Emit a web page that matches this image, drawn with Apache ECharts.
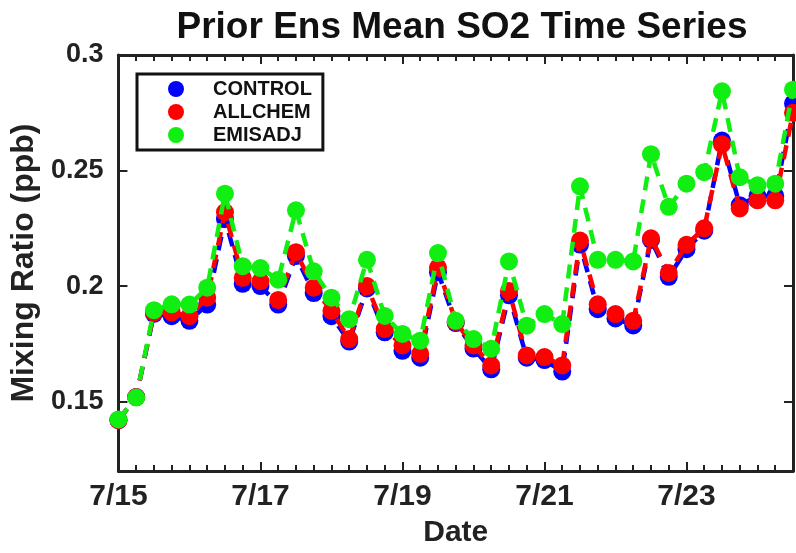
<!DOCTYPE html>
<html>
<head>
<meta charset="utf-8">
<title>Prior Ens Mean SO2 Time Series</title>
<script src="https://cdn.jsdelivr.net/npm/echarts@6/dist/echarts.min.js"></script>
<style>
  html, body { margin: 0; padding: 0; background: #fff; }
  #grafico { width: 796px; height: 553px; }
</style>
</head>
<body>
<div id="grafico"></div>
<script>
// Horas desde 7/15 00:00 (una muestra cada 6 h)
var horas = [0, 6, 12, 18, 24, 30, 36, 42, 48, 54, 60, 66, 72, 78, 84, 90, 96, 102, 108, 114,
             120, 126, 132, 138, 144, 150, 156, 162, 168, 174, 180, 186, 192, 198, 204, 210, 216, 222, 228];

var control = [0.142, 0.152, 0.188, 0.187, 0.185, 0.192, 0.229, 0.201, 0.200, 0.192,
               0.213, 0.197, 0.187, 0.176, 0.199, 0.180, 0.172, 0.169, 0.206, 0.184,
               0.173, 0.164, 0.196, 0.169, 0.168, 0.163, 0.218, 0.190, 0.186, 0.183,
               0.220, 0.204, 0.216, 0.224, 0.263, 0.235, 0.239, 0.239, 0.279];

var allchem = [0.142, 0.152, 0.1885, 0.1886, 0.187, 0.195, 0.232, 0.2036, 0.2021, 0.194,
               0.2147, 0.1993, 0.1893, 0.1771, 0.200, 0.1814, 0.1743, 0.1707, 0.208, 0.1845,
               0.1743, 0.1657, 0.1979, 0.170, 0.1693, 0.1657, 0.2197, 0.1921, 0.1879, 0.185,
               0.2207, 0.2057, 0.2179, 0.225, 0.2614, 0.2336, 0.2371, 0.2371, 0.275];

var emisadj = [0.1423, 0.1518, 0.1896, 0.1921, 0.192, 0.1993, 0.240, 0.2086, 0.2078, 0.2028,
               0.2328, 0.2064, 0.195, 0.1857, 0.2114, 0.1871, 0.1793, 0.1764, 0.2143, 0.185,
               0.1771, 0.1729, 0.2107, 0.1829, 0.1879, 0.1836, 0.2432, 0.2114, 0.2114, 0.2107,
               0.2571, 0.2343, 0.2443, 0.2493, 0.2843, 0.2471, 0.2436, 0.2443, 0.285];

var yTicks = [0.15, 0.2, 0.25, 0.3];
var yTickLabels = ['0.15', '0.2', '0.25', '0.3'];

var fuente = "'Liberation Sans', Arial, Helvetica, sans-serif";

function pares(valores) {
    return horas.map(function (h, i) { return [h / 24, valores[i]]; });
}

function etiquetaFecha(v) {
    if (Math.abs(v - Math.round(v)) > 1e-6 || Math.round(v) % 2 !== 0) return '';
    return '7/' + (15 + Math.round(v));
}

function serie(nombre, color, datos, z) {
    return {
        name: nombre,
        type: 'line',
        data: pares(datos),
        z: z,
        clip: false,
        symbol: 'circle',
        symbolSize: 18,
        itemStyle: { color: color },
        lineStyle: { color: color, width: 4.5, type: [14, 9] }
    };
}

var ejeX = {
    type: 'value',
    min: 0,
    max: 9.5,
    interval: 2,
    axisLine: { show: true, onZero: false, lineStyle: { color: '#222', width: 3 } },
    axisTick: { show: true, inside: true, length: 9, lineStyle: { color: '#222', width: 2 } },
    minorTick: { show: true, splitNumber: 8, length: 6, lineStyle: { color: '#222', width: 2 } },
    splitLine: { show: false },
    minorSplitLine: { show: false }
};

var ejeY = {
    type: 'value',
    min: 0.12,
    max: 0.3,
    axisLine: { show: true, onZero: false, lineStyle: { color: '#222', width: 3 } },
    axisTick: { show: true, inside: true, length: 9, customValues: yTicks, lineStyle: { color: '#222', width: 2 } },
    splitLine: { show: false }
};

var grafico = echarts.init(document.getElementById('grafico'), null, { renderer: 'canvas' });

grafico.setOption({
    animation: false,
    backgroundColor: '#fff',
    title: {
        text: 'Prior Ens Mean SO2 Time Series',
        left: 457,
        top: 4,
        textAlign: 'center',
        textStyle: { fontFamily: fuente, fontWeight: 'bold', fontSize: 37, color: '#111' }
    },
    grid: { left: 116, right: -4, top: 55, bottom: 78 },
    legend: {
        data: ['CONTROL', 'ALLCHEM', 'EMISADJ'],
        orient: 'vertical',
        left: 137,
        top: 74,
        icon: 'circle',
        itemWidth: 64,
        itemHeight: 16,
        itemGap: 3,
        padding: [5, 11, 5, 31],
        borderColor: '#111',
        borderWidth: 3,
        backgroundColor: '#fff',
        textStyle: { fontFamily: fuente, fontWeight: 'bold', fontSize: 20, color: '#111', padding: [0, 0, 0, 0] }
    },
    xAxis: [
        Object.assign({}, ejeX, {
            position: 'bottom',
            name: 'Date',
            nameLocation: 'middle',
            nameGap: 47,
            nameTextStyle: { fontFamily: fuente, fontWeight: 'bold', fontSize: 30, color: '#222' },
            axisLabel: {
                show: true, margin: 11, formatter: etiquetaFecha,
                fontFamily: fuente, fontWeight: 'bold', fontSize: 30, color: '#222'
            }
        }),
        Object.assign({}, ejeX, { position: 'top', axisLabel: { show: false } })
    ],
    yAxis: [
        Object.assign({}, ejeY, {
            position: 'left',
            name: 'Mixing Ratio (ppb)',
            nameLocation: 'middle',
            nameGap: 78,
            nameTextStyle: { fontFamily: fuente, fontWeight: 'bold', fontSize: 32, color: '#222' },
            axisLabel: {
                show: true, margin: 15, customValues: yTicks,
                formatter: function (v) {
                    var i = yTicks.findIndex(function (t) { return Math.abs(t - v) < 1e-9; });
                    return i >= 0 ? yTickLabels[i] : '';
                },
                fontFamily: fuente, fontWeight: 'bold', fontSize: 27, color: '#222'
            }
        }),
        Object.assign({}, ejeY, { position: 'right', axisLabel: { show: false } })
    ],
    series: [
        serie('CONTROL', '#0000ff', control, 2),
        serie('ALLCHEM', '#ff0000', allchem, 3),
        serie('EMISADJ', '#11ee11', emisadj, 4)
    ]
});
</script>
</body>
</html>
